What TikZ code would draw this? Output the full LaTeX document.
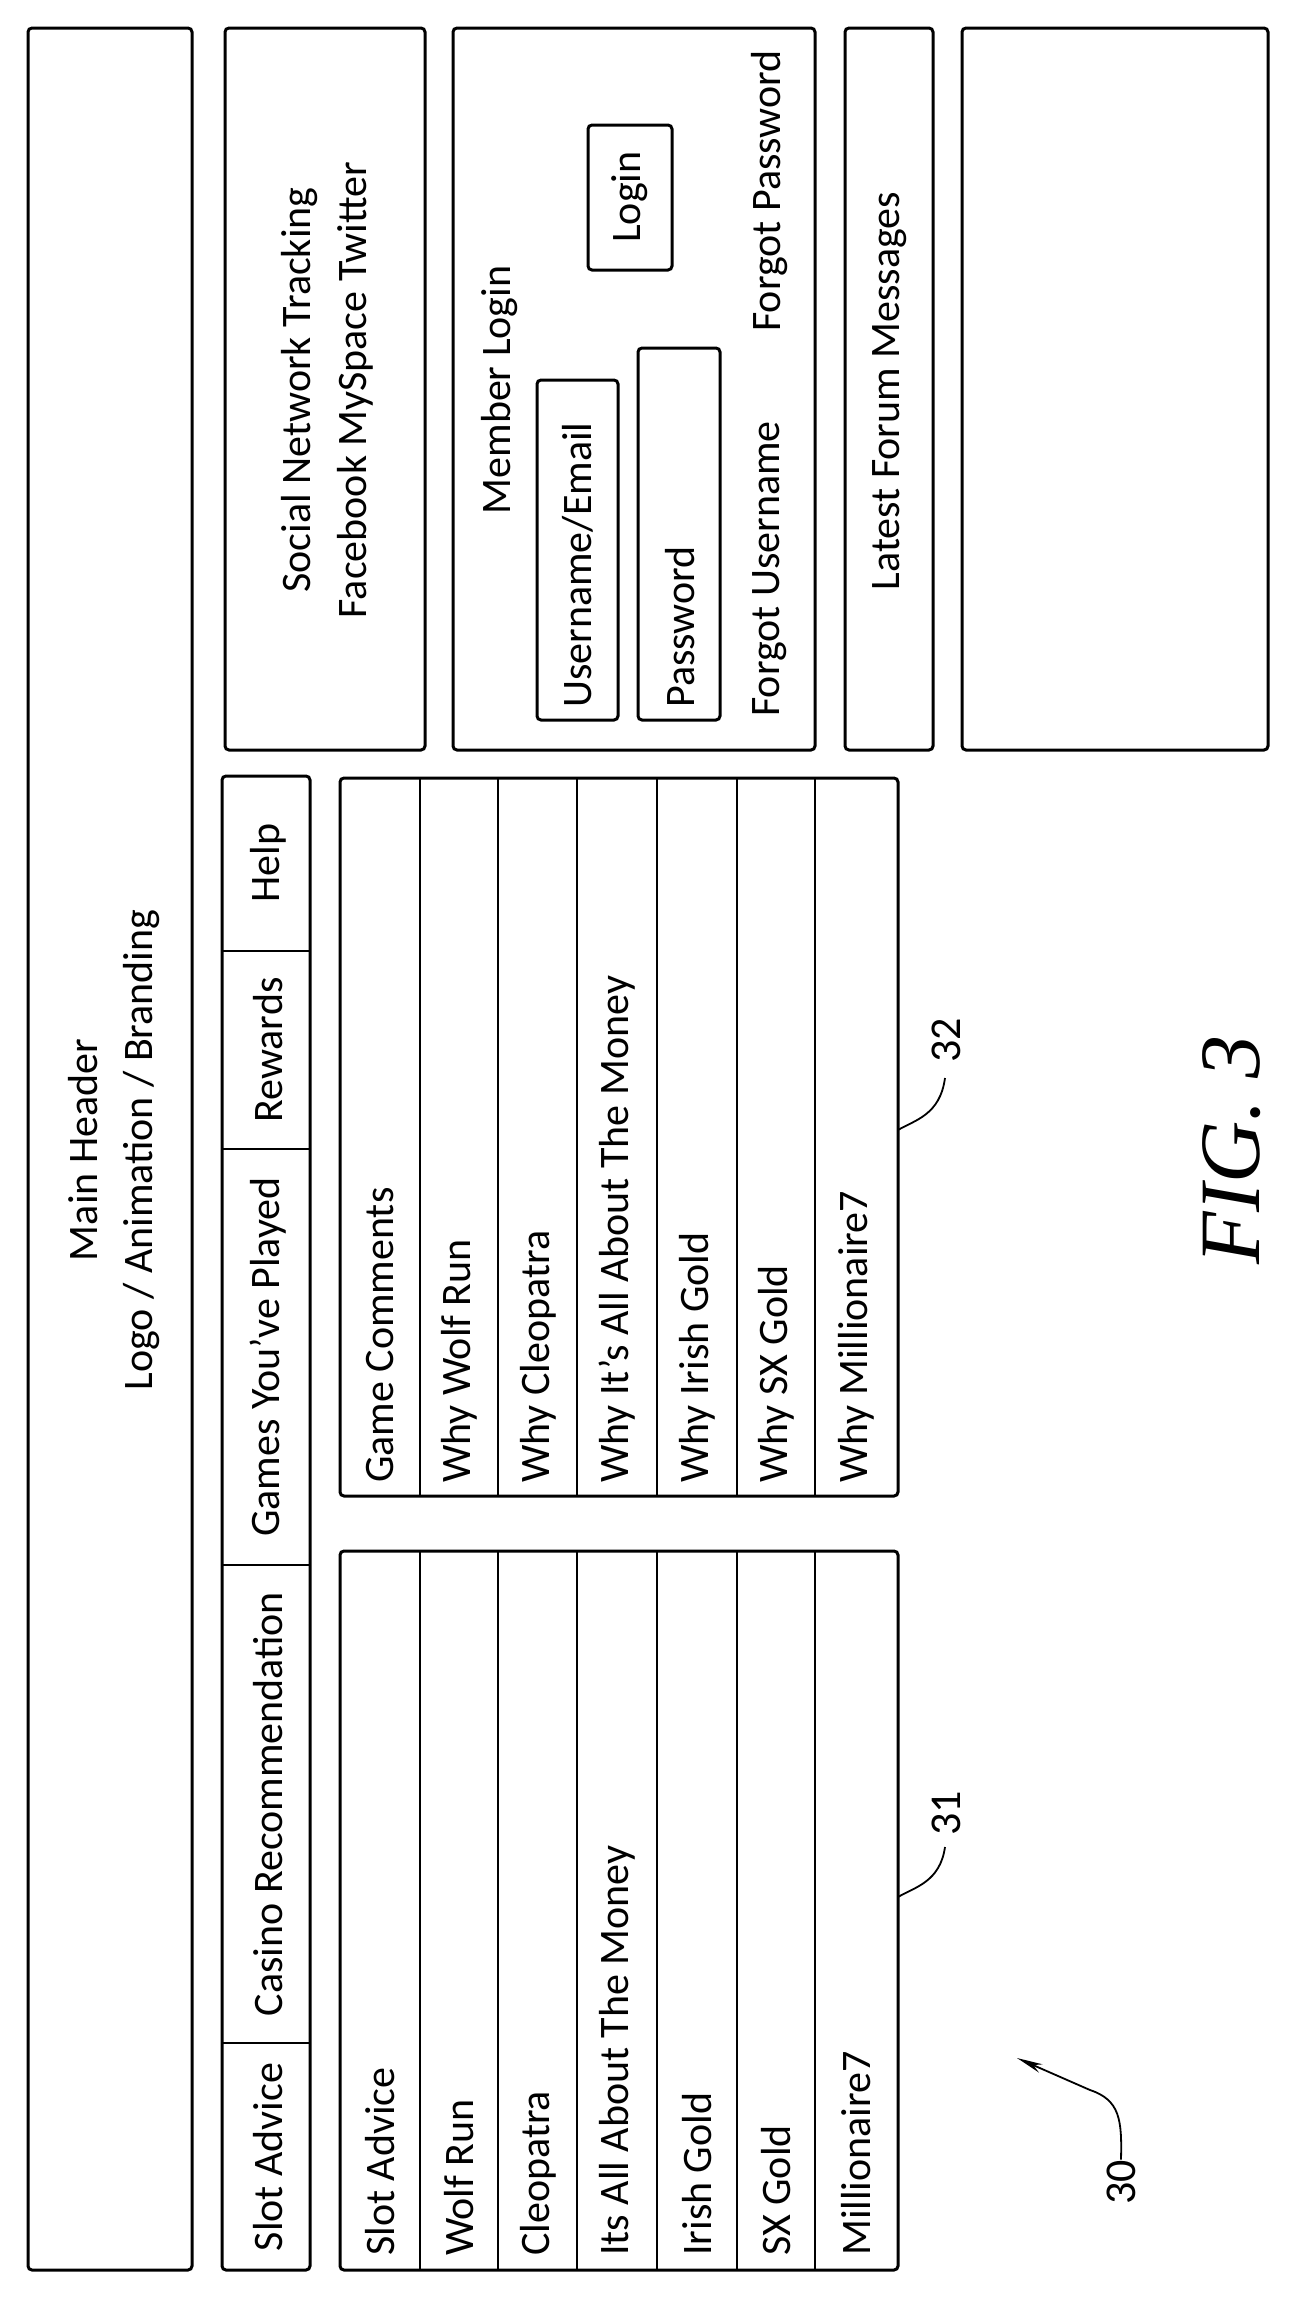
\documentclass[tikz,border=0pt]{standalone}
\usepackage{fontspec}
\setmainfont{Carlito}
\newfontfamily\figfont{Liberation Serif}
\usetikzlibrary{arrows.meta}
\begin{document}
\begin{tikzpicture}[x=1pt,y=-1pt,
  box/.style={line width=3pt,rounded corners=4pt},
  row/.style={line width=2.4pt},
  t/.style={rotate=90,inner sep=0pt,font=\fontsize{42}{46}\selectfont},
  lead/.style={line width=1.8pt},
  lbl/.style={rotate=90,inner sep=0pt,font=\fontsize{44}{48}\selectfont}]
\useasboundingbox (0,0) rectangle (1294,2300);
% header
\draw[box] (28,28) rectangle (192,2270);
\node[t] (mh) at (83,1150) {Main Header};
\node[t] (lg) at (142,1150) {Logo / Animation / Branding};
% tabs
\draw[box] (222,776) rectangle (310,2270);
\foreach \yy in {951,1149,1565,2043} \draw[row] (222,\yy) -- (310,\yy);
\node[t] (tb1) at (268,2157) {Slot Advice};
\node[t] (tb2) at (268,1804) {Casino Recommendation};
\node[t] (tb3) at (268,1357) {Games You've Played};
\node[t] (tb4) at (268,1050) {Rewards};
\node[t] (tb5) at (268,863) {Help};
% list 31
\draw[box] (340,1551) rectangle (898,2270);
% list 32
\draw[box] (340,778) rectangle (898,1496);
\foreach \xx in {420,498,577,657,737,815} {
  \draw[row] (\xx,1551) -- (\xx,2270);
  \draw[row] (\xx,778) -- (\xx,1496);}
\node[t,anchor=west] (a1) at (380,2256) {Slot Advice};
\node[t,anchor=west] (a2) at (459,2256) {Wolf Run};
\node[t,anchor=west] (a3) at (538,2256) {Cleopatra};
\node[t,anchor=west] (a4) at (617,2256) {Its All About The Money};
\node[t,anchor=west] (a5) at (697,2256) {Irish Gold};
\node[t,anchor=west] (a6) at (776,2256) {SX Gold};
\node[t,anchor=west] (a7) at (856,2256) {Millionaire7};
\node[t,anchor=west] (b1) at (380,1483) {Game Comments};
\node[t,anchor=west] (b2) at (459,1483) {Why Wolf Run};
\node[t,anchor=west] (b3) at (538,1483) {Why Cleopatra};
\node[t,anchor=west] (b4) at (617,1483) {Why It's All About The Money};
\node[t,anchor=west] (b5) at (697,1483) {Why Irish Gold};
\node[t,anchor=west] (b6) at (776,1483) {Why SX Gold};
\node[t,anchor=west] (b7) at (856,1483) {Why Millionaire7};
% social
\draw[box] (225,28) rectangle (425,750);
\node[t] (s1) at (300,390) {Social Network Tracking};
\node[t] (s2) at (355,390) {Facebook MySpace Twitter};
% member login
\draw[box] (453,28) rectangle (815,750);
\node[t] (ml) at (500,390) {Member Login};
\draw[box] (537,380) rectangle (618,720);
\node[t,anchor=west] (un) at (578,708) {Username/Email};
\draw[box] (638,348) rectangle (720,720);
\node[t,anchor=west] (pw) at (680,708) {Password};
\draw[box] (588,125) rectangle (672,270);
\node[t] (lo) at (630,197) {Login};
\node[t,anchor=west] (fu) at (770,717) {Forgot Username};
\node[t,anchor=east] (fp) at (770,50) {Forgot Password};
% forum
\draw[box] (845,28) rectangle (933,750);
\node[t] (fm) at (890,391) {Latest Forum Messages};
% empty
\draw[box] (962,28) rectangle (1268,750);
% labels
\node[lbl] (l32) at (946,1040) {32};
\coordinate (c32) at (898,1130);
\draw[lead] (c32) .. controls (915,1120) and (940,1115) .. (945,1078);
\node[lbl] (l31) at (946,1813) {31};
\coordinate (c31) at (898,1897);
\draw[lead] (c31) .. controls (915,1887) and (940,1882) .. (945,1847);
\node[lbl] (l30) at (1121,2182) {30};
\coordinate (c30) at (1017,2058);
\draw[lead,-{Stealth[length=26pt,width=9pt]}] (l30.east) .. controls (1122,2120) and (1120,2100) .. (1090,2090) -- (c30);
\node[rotate=90,inner sep=0pt,font=\figfont\itshape\fontsize{86}{90}\selectfont] (fig) at (1232,1150) {FIG. 3};
\end{tikzpicture}
\end{document}
